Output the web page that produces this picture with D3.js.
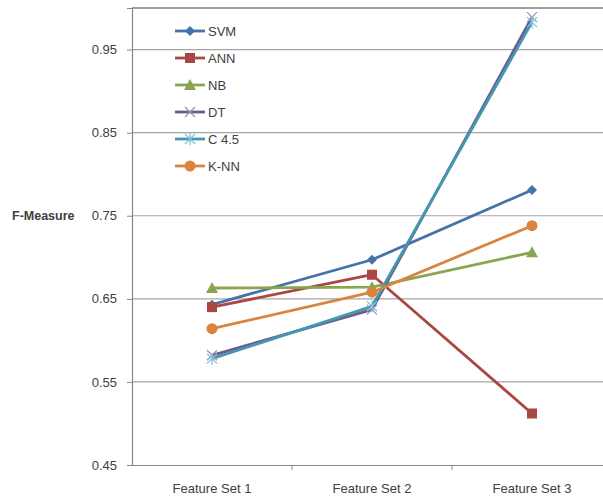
<!DOCTYPE html>
<html>
<head>
<meta charset="utf-8">
<script src="https://cdn.jsdelivr.net/npm/d3@7"></script>
<style>
  body { margin: 0; background: #fff; }
  text { font-family: "Liberation Sans", Arial, sans-serif; fill: #404040; }
</style>
</head>
<body>
<div id="chart"></div>
<script>
'use strict';

// data
const categories = ['Feature Set 1', 'Feature Set 2', 'Feature Set 3'];
const seriesNames = ['SVM', 'ANN', 'NB', 'DT', 'C 4.5', 'K-NN'];
const svm  = [0.643, 0.697, 0.781];
const ann  = [0.640, 0.679, 0.512];
const nb   = [0.663, 0.664, 0.706];
const dt   = [0.582, 0.637, 0.989];
const c45  = [0.578, 0.641, 0.983];
const knn  = [0.614, 0.658, 0.738];
const yTicks = [0.45, 0.55, 0.65, 0.75, 0.85, 0.95];

const colours = ['#4572A7', '#AA4643', '#89A54E', '#71588F', '#4198AF', '#DB843D'];
const markers = ['diamond', 'square', 'triangle', 'cross', 'asterisk', 'circle'];
const values = [svm, ann, nb, dt, c45, knn];

const W = 603, H = 498;
const margin = {top: 8, right: -9, bottom: 33, left: 132};

const svg = d3.select('#chart').append('svg').attr('width', W).attr('height', H);

let x = d3.scaleBand().domain(categories).range([margin.left, W - margin.right]);
let y = d3.scaleLinear().domain([0.45, 1.0]).range([H - margin.bottom, margin.top]);

//gridlines
svg.append('g').selectAll('line').data(yTicks.slice(1)).join('line')
  .attr('x1', margin.left).attr('x2', W)
  .attr('y1', d => y(d)).attr('y2', d => y(d))
  .attr('stroke', '#a6a6a6').attr('stroke-width', 1.2);

//top border of plot area
svg.append('line').attr('x1', margin.left).attr('x2', W)
  .attr('y1', y(1.0)).attr('y2', y(1.0))
  .attr('stroke', '#404040').attr('stroke-width', 1.2);

//y axis
let yAxis = d3.axisLeft(y).tickValues(yTicks).tickFormat(d3.format('.2f')).tickSize(5).tickPadding(10);
let gy = svg.append('g').attr('transform', 'translate(' + margin.left + ',0)').call(yAxis);
gy.select('.domain').attr('stroke', '#868686').attr('stroke-width', 1.2);
gy.selectAll('.tick line').attr('stroke', '#868686');
gy.selectAll('.tick text').style('font-size', '13px').attr('fill', '#404040');

//x axis
let xAxis = d3.axisBottom(x).tickSize(0).tickPadding(19);
let gx = svg.append('g').attr('transform', 'translate(0,' + y(0.45) + ')').call(xAxis);
gx.select('.domain').attr('stroke', '#868686').attr('stroke-width', 1.2);
gx.selectAll('.tick text').style('font-size', '13px').attr('fill', '#404040');

//category boundary ticks
svg.append('g').selectAll('line').data(categories.slice(1)).join('line')
  .attr('x1', d => x(d)).attr('x2', d => x(d))
  .attr('y1', y(0.45)).attr('y2', y(0.45) + 5)
  .attr('stroke', '#868686');

//axis title
svg.append('text').attr('x', 12).attr('y', y(0.75) + 4)
  .style('font-size', '12.5px').style('font-weight', 'bold').attr('fill', '#000')
  .text('F-Measure');

function drawMarker(g, type, colour) {
  if (type === 'diamond') {
    g.append('path').attr('d', 'M0,-5L5,0L0,5L-5,0Z').attr('fill', colour);
  } else if (type === 'square') {
    g.append('rect').attr('x', -5).attr('y', -5).attr('width', 10).attr('height', 10).attr('fill', colour);
  } else if (type === 'triangle') {
    g.append('path').attr('d', 'M0,-6L6,5L-6,5Z').attr('fill', colour);
  } else if (type === 'cross') {
    g.append('path').attr('d', 'M-5,-5L5,5M-5,5L5,-5').attr('stroke', '#9e8fbf').attr('stroke-width', 1.3).attr('fill', 'none');
  } else if (type === 'asterisk') {
    g.append('path').attr('d', 'M-5,-5L5,5M-5,5L5,-5M0,-6L0,6').attr('stroke', '#7fc6da').attr('stroke-width', 1.3).attr('fill', 'none');
  } else {
    g.append('circle').attr('r', 5.5).attr('fill', colour);
  }
}

let line = d3.line()
  .x((d, i) => x(categories[i]) + x.bandwidth() / 2)
  .y(d => y(d));

//series lines
values.forEach(function(v, k) {
  svg.append('path').attr('d', line(v)).attr('fill', 'none')
    .attr('stroke', colours[k]).attr('stroke-width', 2.8).attr('stroke-linejoin', 'round');
});

//series markers
values.forEach(function(v, k) {
  v.forEach(function(d, i) {
    let g = svg.append('g')
      .attr('transform', 'translate(' + (x(categories[i]) + x.bandwidth() / 2) + ',' + y(d) + ')');
    drawMarker(g, markers[k], colours[k]);
  });
});

//legend
let legend = svg.append('g').attr('transform', 'translate(175,31)');
seriesNames.forEach(function(name, k) {
  let row = legend.append('g').attr('transform', 'translate(0,' + (k * 27) + ')');
  row.append('line').attr('x1', 0).attr('x2', 30).attr('y1', 0).attr('y2', 0)
    .attr('stroke', colours[k]).attr('stroke-width', 2.8);
  let m = row.append('g').attr('transform', 'translate(15,0)');
  drawMarker(m, markers[k], colours[k]);
  row.append('text').attr('x', 33).attr('y', 5).style('font-size', '13px').attr('fill', '#222').text(name);
});
</script>
</body>
</html>
